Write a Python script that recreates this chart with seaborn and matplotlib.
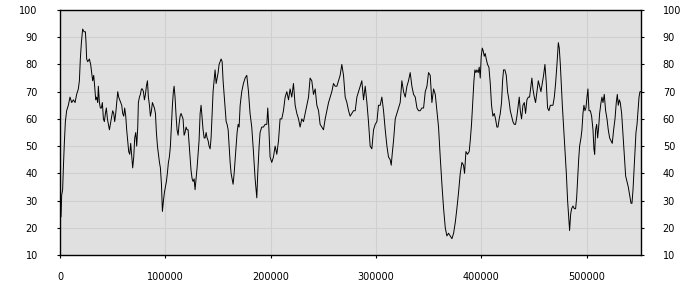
import numpy as np
import pandas as pd
import matplotlib
matplotlib.use("Agg")
import matplotlib.pyplot as plt
import seaborn as sns

# x positions in thousands
x_k = [0.0, 0.95, 1.6, 2.5, 3.2, 4.1, 5.1, 6.3, 7.9, 9.5, 11.1, 12.7, 14.3, 15.8, 17.4, 18.4, 19.3, 20.3,
       21.5, 22.8, 24.1, 24.7, 25.3, 26.3, 27.9, 29.1, 30.1, 31.0, 32.0, 32.9, 33.9, 34.8, 35.8, 36.4,
       37.4, 38.3, 39.3, 40.2, 41.2, 42.1, 43.1, 44.0, 45.0, 45.9, 46.9, 47.8, 49.1, 50.0, 51.0, 51.9,
       52.9, 53.8, 54.8, 55.7, 56.7, 57.6, 58.6, 59.5, 60.5, 61.4, 62.4, 63.3, 64.3, 65.2, 66.2, 67.1,
       68.1, 69.0, 70.0, 70.9, 71.9, 72.8, 73.8, 74.4, 75.4, 76.3, 77.3, 78.2, 79.2, 80.1, 81.1, 82.0,
       83.0, 83.9, 84.9, 85.8, 86.8, 87.7, 88.7, 89.6, 90.6, 91.5, 92.5, 93.4, 94.4, 95.3, 96.3, 97.2,
       98.2, 99.1, 100.0, 101.0, 101.9, 102.9, 103.8, 104.8, 105.8, 106.7, 107.6, 108.3, 109.2, 110.2,
       111.1, 112.1, 113.0, 114.0, 114.9, 115.9, 116.8, 117.8, 118.7, 119.7, 120.6, 121.6, 122.5,
       123.5, 124.4, 125.4, 126.3, 127.3, 128.2, 129.2, 130.1, 131.1, 132.0, 133.0, 133.9, 134.9,
       135.8, 136.8, 137.7, 138.7, 139.6, 140.6, 141.5, 142.5, 143.4, 144.4, 145.3, 146.3, 147.2,
       148.2, 149.1, 150.1, 151.0, 152.0, 152.9, 153.9, 154.8, 155.8, 156.7, 157.7, 158.6, 159.6,
       160.5, 161.5, 162.4, 163.4, 164.3, 165.3, 166.2, 167.2, 168.1, 169.1, 170.0, 171.0,
       172.5, 174.1, 175.7, 177.3, 178.9, 180.4, 182.0, 183.6, 185.2, 186.8, 187.7, 189.0, 189.9,
       191.5, 193.1, 194.7, 196.3, 197.2, 198.2, 199.4, 201.0, 202.6, 204.2, 205.8, 207.4, 208.9,
       210.5, 212.1, 213.7, 215.3, 216.9, 218.4, 220.0, 221.6, 223.2, 224.8, 226.4, 227.9, 229.5,
       231.1, 232.7, 234.3, 235.9, 237.4, 239.0, 240.6, 242.2, 243.8, 245.4, 246.9, 248.5, 250.1,
       251.7, 253.3, 254.9, 256.4, 258.0, 259.6, 261.2, 262.8, 264.4, 265.9, 267.5, 269.1, 270.7,
       272.3, 273.9, 275.4, 277.0, 278.6, 280.2, 281.8, 283.4, 284.9, 286.5, 288.1, 289.7, 291.3,
       292.8, 294.4, 296.0, 297.6, 299.2, 300.8, 302.3, 303.9, 305.5, 307.1, 308.7, 310.3, 311.8,
       313.4, 314.4, 315.3, 316.6, 318.2, 319.8, 321.3, 322.9, 324.5, 326.1, 327.7, 329.3, 330.8,
       332.4, 334.0, 335.6, 337.2, 338.8, 340.3, 341.9, 343.5, 345.1, 346.7, 348.3, 349.8, 351.4,
       353.0, 354.6, 356.2, 357.7, 359.3, 360.9, 362.5, 364.1, 365.7, 367.2, 368.8, 370.4, 372.0,
       373.6, 375.2, 376.7, 378.3, 379.9,
       381.5, 383.0, 384.0, 385.3, 386.8, 388.4, 389.4, 390.6, 391.9, 392.9, 393.8, 394.8, 395.7,
       397.0, 397.9, 398.9, 399.8, 400.8, 401.7, 402.7, 403.6, 404.6, 405.8, 407.1, 408.4, 409.6,
       410.9, 412.2, 413.4, 414.7, 415.7, 416.9, 417.9, 419.1, 420.1, 421.0, 422.3, 423.6, 424.8,
       426.1, 427.4, 428.6, 429.9, 431.2, 432.4, 433.7, 435.0, 435.9, 436.9, 438.1, 439.4, 440.7,
       441.9, 443.2, 444.5, 445.7, 447.0, 447.9, 448.9, 450.2, 451.4, 452.7, 454.0, 455.2, 456.5,
       457.8, 459.0, 460.3, 461.6, 462.8, 464.1, 465.4, 466.6, 467.9, 469.2, 470.4, 471.7, 473.0,
       473.9, 474.9, 475.8, 476.8, 478.0, 479.3, 480.6, 481.8, 482.8, 483.7, 484.7, 485.6, 486.9,
       488.2, 489.4, 490.4, 491.3, 492.3, 493.2, 494.5, 495.4, 496.4, 497.3, 498.3, 499.2, 500.2,
       501.1, 502.1, 503.4, 504.6, 505.9, 506.8, 507.5, 508.4, 509.4, 510.3, 511.3, 512.2, 513.5,
       514.4, 515.4, 516.6, 517.9, 519.2, 520.4, 521.7, 523.0, 524.2, 525.5, 526.8, 528.0, 529.0,
       529.9, 530.9, 531.8, 533.1, 534.4, 535.6, 536.9, 538.2, 539.4, 540.7, 542.0, 542.9, 543.9,
       544.8, 545.8, 546.7, 547.7, 548.6, 549.6, 550.5, 551.0]

values = [26, 24, 32, 34, 42, 51, 59, 63, 65, 68, 66, 67, 66, 69, 71, 74, 82, 88,
          93, 92, 92, 88, 82, 81, 82, 80, 77, 74, 76, 72, 67, 68, 66, 72,
          66, 64, 64, 66, 60, 59, 62, 64, 60, 58, 56, 58, 61, 63, 62, 59,
          62, 66, 70, 68, 67, 66, 65, 62, 61, 64, 61, 56, 52, 48, 47, 51,
          46, 42, 46, 53, 55, 50, 57, 66, 68, 69, 71, 71, 70, 67, 69, 72,
          74, 68, 65, 61, 63, 66, 65, 64, 62, 55, 50, 47, 44, 42, 36, 26,
          30, 33, 35, 37, 40, 44, 46, 50, 58, 65, 70, 72, 68, 61,
          56, 54, 58, 61, 62, 61, 60, 54, 55, 57, 56, 56, 51,
          46, 41, 38, 37, 38, 34, 38, 42, 47, 52, 62, 65, 60,
          56, 53, 53, 55, 53, 52, 50, 49, 53, 62, 70, 74, 78,
          73, 75, 77, 80, 81, 82, 81, 74, 69, 64, 59, 58, 56,
          50, 44, 40, 38, 36, 40, 45, 51, 55, 58, 57, 65,
          70, 73, 75, 76, 70, 62, 57, 48, 38, 31, 40, 50, 55,
          57, 57, 58, 58, 64, 57, 46, 44, 46, 50, 47, 52, 60,
          60, 63, 68, 70, 67, 71, 68, 73, 65, 62, 60, 57, 60,
          59, 62, 65, 68, 75, 74, 69, 71, 65, 63, 58, 57, 56,
          60, 63, 66, 68, 70, 73, 72, 72, 74, 76, 80, 76, 68,
          66, 63, 61, 62, 63, 63, 68, 70, 72, 74, 67, 72, 66,
          59, 50, 49, 56, 58, 59, 65, 65, 68, 63, 56, 50, 46,
          45, 43, 47, 52, 60, 62, 64, 66, 74, 70, 68, 72, 74,
          77, 72, 69, 68, 64, 63, 63, 64, 64, 70, 72, 77, 76,
          66, 71, 69, 63, 57, 46, 36, 27, 20, 17, 18, 17, 16,
          18, 22, 27, 33, 40,
          44, 43, 40, 48, 47, 48, 52, 58, 67, 74, 78, 77, 78,
          77, 79, 75, 83, 86, 85, 83, 84, 82, 80, 79, 73, 65,
          61, 62, 60, 57, 57, 60, 62, 66, 74, 78, 78, 76, 70,
          67, 63, 61, 59, 58, 58, 61, 65, 68, 63, 60, 65, 66,
          62, 67, 68, 68, 72, 75, 71, 68, 66, 70, 74, 72, 70,
          73, 76, 80, 73, 64, 63, 65, 65, 65, 68, 73, 80, 88,
          86, 80, 73, 65, 57, 49, 40, 30, 24, 19, 25, 27, 28,
          27, 27, 31, 38, 45, 50, 53, 56, 62, 65, 63, 64, 68,
          71, 63, 63, 61, 56, 49, 47, 56, 58, 53, 57, 62, 66,
          68, 66, 69, 63, 60, 56, 53, 52, 51, 56, 60, 66, 69,
          65, 67, 66, 62, 54, 47, 39, 37, 35, 32, 29, 29, 34,
          41, 49, 55, 58, 63, 68, 70, 70]

x_ticks = [0, 100000, 200000, 300000, 400000, 500000]
y_ticks = [10, 20, 30, 40, 50, 60, 70, 80, 90, 100]

df = pd.DataFrame({"x": np.array(x_k) * 1000.0, "y": values})

plt.rcParams["font.family"] = ["DejaVu Sans"]
fig = plt.figure(figsize=(7, 3), dpi=100)
ax = fig.add_axes([60 / 700, 45 / 300, 580.5 / 700, 245 / 300])
ax.set_facecolor("#e0e0e0")

sns.lineplot(data=df, x="x", y="y", ax=ax, color="black", linewidth=0.7,
             estimator=None, sort=False)

ax.set_xlim(0, 551000)
ax.set_ylim(10, 100)
ax.set_xticks(x_ticks)
ax.set_xticklabels([str(t) for t in x_ticks])
ax.set_yticks(y_ticks)
ax.set_yticklabels([str(t) for t in y_ticks])
ax.grid(True, color="#cfcfcf", linewidth=0.8)
ax.set_axisbelow(True)
ax.set_xlabel("")
ax.set_ylabel("")

for s in ax.spines.values():
    s.set_color("black")
    s.set_linewidth(1.0)

ax.tick_params(axis="x", direction="out", length=2.5, width=0.8, pad=9.5,
               labelsize=7, colors="black", top=False)
ax.tick_params(axis="y", direction="out", length=2.5, width=0.8, pad=13.5,
               labelsize=7, colors="black", left=True, right=True,
               labelleft=True, labelright=True)

fig.savefig("out.png", dpi=100)
